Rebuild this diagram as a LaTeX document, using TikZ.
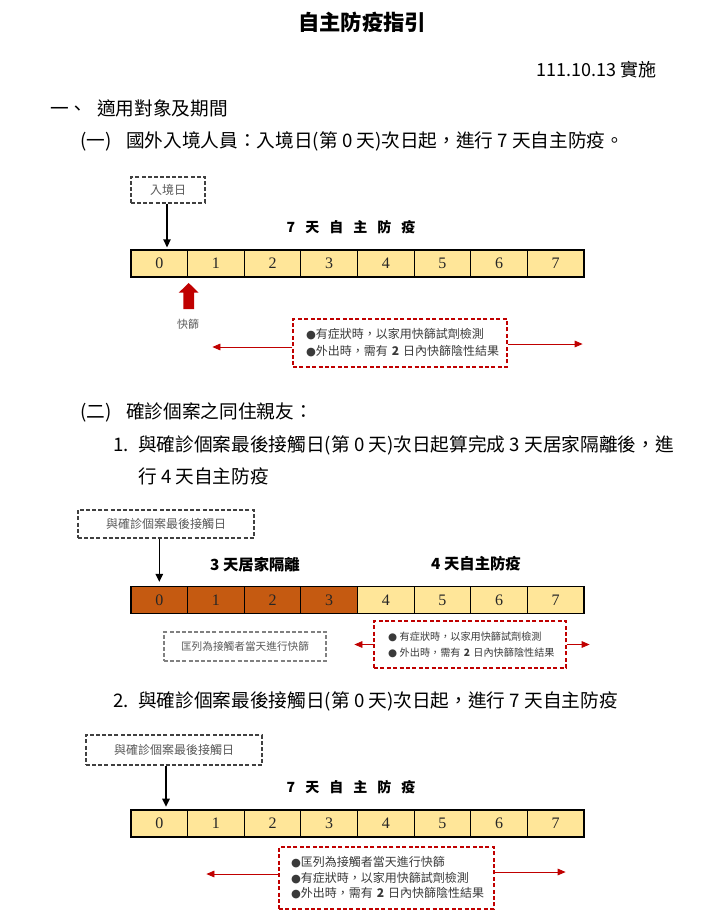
\documentclass[tikz,border=0pt]{standalone}
\usepackage{fontspec}
\setmainfont{Noto Sans CJK TC}
\newfontfamily\digf{Liberation Serif}
\newfontfamily\dvs{DejaVu Sans}
\usetikzlibrary{arrows.meta}
\definecolor{cellyel}{HTML}{FFE699}
\definecolor{cellorg}{HTML}{C55A11}
\definecolor{darkred}{HTML}{C00000}
\definecolor{boxgray}{HTML}{404040}
\definecolor{txtgray}{HTML}{595959}
\definecolor{lightgrayb}{HTML}{808080}
\definecolor{redtxt}{HTML}{3A3A3A}
\newcommand{\fs}[2]{\fontsize{#1}{#2}\selectfont}
\newcommand{\bul}{{\dvs\fontsize{8.5pt}{8.5pt}\selectfont ●}}
\newcommand{\bulsm}{{\dvs\fontsize{7.8pt}{7.8pt}\selectfont ●}}
\begin{document}
\begin{tikzpicture}[x=0.75pt,y=-0.75pt,
  body/.style={anchor=west, inner sep=0pt, text height=0.88em, text depth=0.12em, font=\fs{14pt}{16pt}},
  cell/.style={draw=black, line width=0.9pt, minimum width=42.47pt, minimum height=20.25pt, inner sep=0pt, font=\digf\fs{12pt}{12pt}, text=black!85},
  graybox/.style={draw=boxgray, dash pattern=on 3pt off 1.6pt, line width=0.9pt, inner sep=0pt, text=txtgray, font=\fs{9pt}{10pt}},
  redbox/.style={draw=darkred, dash pattern=on 3pt off 1.8pt, line width=0.9pt, inner ysep=0pt, align=left, text=redtxt},
  blackarrow/.style={line width=1.2pt, -{Triangle[width=5.5pt,length=6pt]}},
  redarrow/.style={draw=darkred, line width=0.6pt, -{Triangle[width=5pt,length=6pt]}},
  daytitle/.style={font=\bfseries\fs{10.5pt}{12pt}, inner sep=0pt},
  phasetitle/.style={font=\bfseries\fs{11.5pt}{13pt}, inner sep=0pt},
]
\useasboundingbox (0,0) rectangle (713,924);

% ---------- header text ----------
\node[font=\bfseries\fs{16pt}{18pt}, inner sep=0pt] (title) at (362,22) {自主防疫指引};
\node[anchor=east, inner sep=0pt, font=\fs{13.5pt}{15pt}] (date) at (657,70) {111.10.13 實施};
\node[body] (s1num) at (50,110) {一、};
\node[body] (s1) at (97,110) {適用對象及期間};
\node[body] (s11num) at (80,142) {(一)};
\node[body] (s11) at (126,142) {國外入境人員：入境日(第 0 天)次日起，進行 7 天自主防疫。};

% ---------- diagram 1 ----------
\node[graybox, minimum width=55.5pt, minimum height=19.5pt] (e1) at (168,190) {入境日};
\node[daytitle] (d1) at (351,227) {7\hspace{7.5pt}天\hspace{7.5pt}自\hspace{7.5pt}主\hspace{7.5pt}防\hspace{7.5pt}疫};
\foreach \i in {0,...,7}
  \node[cell, fill=cellyel] (p\i) at ({131+56.625*(\i+0.5)},263.5) {\i};
\draw[blackarrow] ([xshift=-0.75pt]e1.south) -- ([xshift=-0.75pt,yshift=1.5pt]e1.south |- p0.north);
\fill[darkred] (183.3,309) -- (183.3,292.7) -- (178.7,292.7) -- (188.7,283) -- (198.7,292.7) -- (194,292.7) -- (194,309) -- cycle;
\node[font=\fs{8.25pt}{9pt}, text=txtgray, inner sep=0pt] (ks) at (188,324) {快篩};
\node[redbox, text width=141pt, inner xsep=9.75pt, minimum height=36pt, font=\fs{9pt}{12.75pt}] (r1) at (400,343)
  {\mbox{\bul{}有症狀時，以家用快篩試劑檢測}\\\mbox{\bul{}外出時，需有 \textbf{2} 日內快篩陰性結果}};
\draw[redarrow] ([yshift=-3pt]r1.west) -- ++(-80,0);
\draw[redarrow] ([yshift=-0.75pt]r1.east) -- ++(75,0);

% ---------- section 2 text ----------
\node[body] (s12num) at (80,413) {(二)};
\node[body] (s12) at (126,413) {確診個案之同住親友：};
\node[body] (i1num) at (113,446) {1.};
\node[body] (i1a) at (138,446) {與確診個案最後接觸日(第 0 天)次日起算完成 3 天居家隔離後，進};
\node[body] (i1b) at (138,478) {行 4 天自主防疫};

% ---------- diagram 2 ----------
\node[graybox, minimum width=132pt, minimum height=21pt] (e2) at (166,524) {與確診個案最後接觸日};
\node[phasetitle] (ph1) at (255,565) {3 天居家隔離};
\node[phasetitle] (ph2) at (476,564) {4 天自主防疫};
\foreach \i in {0,...,3}
  \node[cell, fill=cellorg] (q\i) at ({131+56.625*(\i+0.5)},600) {\i};
\foreach \i in {4,...,7}
  \node[cell, fill=cellyel] (q\i) at ({131+56.625*(\i+0.5)},600) {\i};
\draw[blackarrow] (q0.north |- e2.south) -- ([yshift=3pt]q0.north);
\node[graybox, draw=lightgrayb, minimum width=121.5pt, minimum height=21.75pt, font=\fs{8pt}{9pt}] (g2) at (245,646.5) {匡列為接觸者當天進行快篩};
\node[redbox, text width=123pt, inner xsep=10.5pt, minimum height=35.25pt, font=\fs{7.6pt}{12pt}] (r2) at (470,644.5)
  {\mbox{\bulsm\hspace{2pt}有症狀時，以家用快篩試劑檢測}\\\mbox{\bulsm\hspace{2pt}外出時，需有 \textbf{2} 日內快篩陰性結果}};
\draw[redarrow] (r2.west) -- ++(-19,0);
\draw[redarrow] (r2.east) -- ++(23,0);

% ---------- section 2.2 text ----------
\node[body] (i2num) at (113,702) {2.};
\node[body] (i2) at (138,702) {與確診個案最後接觸日(第 0 天)次日起，進行 7 天自主防疫};

% ---------- diagram 3 ----------
\node[graybox, minimum width=132pt, minimum height=22.5pt] (e3) at (174,750) {與確診個案最後接觸日};
\node[daytitle] (d3) at (351,787) {7\hspace{7.5pt}天\hspace{7.5pt}自\hspace{7.5pt}主\hspace{7.5pt}防\hspace{7.5pt}疫};
\foreach \i in {0,...,7}
  \node[cell, fill=cellyel] (c\i) at ({131+56.625*(\i+0.5)},823.5) {\i};
\draw[blackarrow] ([xshift=-6pt]e3.south) -- ([xshift=-6pt,yshift=2pt]e3.south |- c0.north);
\node[redbox, text width=143.25pt, inner xsep=9pt, minimum height=46.5pt, font=\fs{9pt}{11.6pt}] (r3) at (386.5,878)
  {\mbox{\bul{}匡列為接觸者當天進行快篩}\\\mbox{\bul{}有症狀時，以家用快篩試劑檢測}\\\mbox{\bul{}外出時，需有 \textbf{2} 日內快篩陰性結果}};
\draw[redarrow] ([yshift=3pt]r3.west) -- ++(-72,0);
\draw[redarrow] ([yshift=4.5pt]r3.east) -- ++(71,0);
\end{tikzpicture}
\end{document}
